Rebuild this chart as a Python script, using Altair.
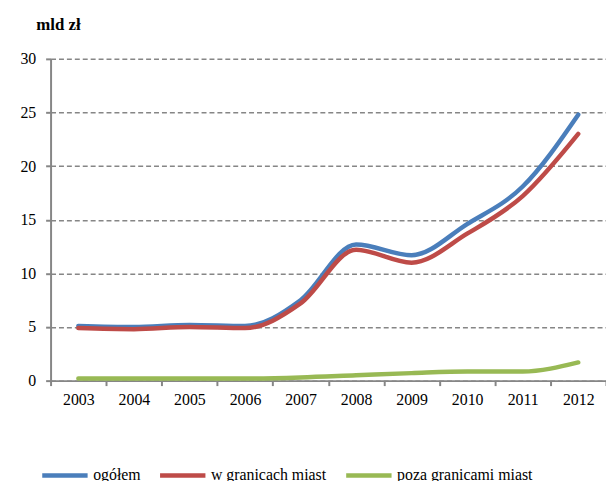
import altair as alt
import pandas as pd

years = ["2003", "2004", "2005", "2006", "2007", "2008", "2009", "2010", "2011", "2012"]
ogolem = [5.1, 5.0, 5.2, 5.1, 7.5, 12.7, 11.7, 14.6, 18.1, 24.8]
w_granicach = [4.9, 4.8, 5.0, 4.9, 7.2, 12.2, 11.0, 13.7, 17.2, 23.0]
poza = [0.2, 0.2, 0.2, 0.2, 0.3, 0.5, 0.7, 0.85, 0.85, 1.7]

series = ["ogółem", "w granicach miast", "poza granicami miast"]
colors = ["#4a7ebb", "#be4b48", "#98b954"]

rows = []
for name, vals in zip(series, [ogolem, w_granicach, poza]):
    for y, v in zip(years, vals):
        rows.append({"rok": y, "wartosc": v, "seria": name})
df = pd.DataFrame(rows)

font = "Liberation Serif"

chart = alt.Chart(df).mark_line(interpolate="monotone", strokeWidth=4.5, strokeCap="round").encode(
    x=alt.X("rok:O", bandPosition=0.5,
            scale=alt.Scale(type="band", paddingInner=0, paddingOuter=0),
            axis=alt.Axis(title=None, labelAngle=0, tickBand="extent", grid=False,
                          domainColor="#868686", domainWidth=2, tickColor="#868686",
                          tickWidth=2, tickSize=5, labelFont=font, labelFontSize=16,
                          labelColor="#000000", labelPadding=6)),
    y=alt.Y("wartosc:Q", scale=alt.Scale(domain=[0, 30]),
            axis=alt.Axis(values=[0, 5, 10, 15, 20, 25, 30], title="mld zł",
                          titleAngle=0, titleFont=font, titleFontSize=17, titleFontWeight="bold",
                          titleX=-15, titleY=-26, titleAlign="left", titleBaseline="bottom",
                          labelFont=font, labelFontSize=16, labelColor="#000000", labelPadding=10,
                          domainColor="#868686", domainWidth=2, tickColor="#868686",
                          tickWidth=2, tickSize=5,
                          gridColor="#868686", gridDash=[5, 3], gridWidth=1.5)),
    color=alt.Color("seria:N", sort=series,
                    scale=alt.Scale(domain=series, range=colors),
                    legend=alt.Legend(title=None, orient="none", direction="horizontal",
                                      legendX=-11, legendY=395,
                                      symbolType="stroke", symbolSize=2100, symbolStrokeWidth=4.5,
                                      labelFont=font, labelFontSize=16, labelColor="#000000",
                                      columnPadding=10, labelOffset=3)),
).properties(
    width=561, height=325,
    autosize=alt.AutoSizeParams(type="none"),
    padding={"left": 43, "top": 49, "right": 0, "bottom": 100},
).configure_view(stroke=None)

chart.save("out.html", embed_options={"renderer": "svg", "actions": False})
